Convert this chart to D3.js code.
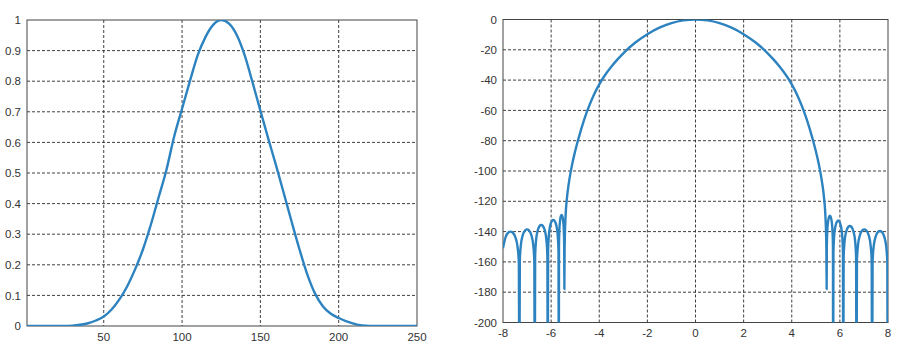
<!DOCTYPE html>
<html>
<head>
<meta charset="utf-8">
<script src="https://cdn.jsdelivr.net/npm/d3@7"></script>
<style>
  html, body { margin: 0; padding: 0; background: #fff; }
  svg { display: block; }
  text { font-family: "Liberation Sans", Arial, sans-serif; font-size: 11.5px; fill: #333; }
</style>
</head>
<body>
<main></main>
<script>
// Window (left panel): sample index vs amplitude.
const winX = [1, 5, 10, 15, 20, 25, 30, 35, 40, 45, 50, 55, 60, 65, 70, 75, 80, 85, 90, 95, 100,
  105, 110, 115, 120, 125, 130, 135, 140, 145, 150, 155, 160, 165, 170, 175, 180, 185, 190,
  195, 200, 205, 210, 215, 220, 225, 230, 235, 240, 245, 250];
const winY = [0, 0, 0, 0, 0, 0, 0.001, 0.004, 0.009, 0.018, 0.031, 0.054, 0.087, 0.13, 0.185,
  0.25, 0.33, 0.42, 0.51, 0.62, 0.71, 0.80, 0.885, 0.945, 0.985, 1.0, 0.988, 0.95, 0.884,
  0.796, 0.704, 0.613, 0.525, 0.433, 0.34, 0.25, 0.168, 0.105, 0.064, 0.04, 0.026, 0.015,
  0.007, 0.002, 0.0003, 0, 0, 0, 0, 0, 0];

// Spectrum (right panel): frequency vs magnitude in dB.
const specF = [
  -8.0, -7.897, -7.779, -7.69, -7.601, -7.483, -7.394, -7.342, -7.32,
  -7.301, -7.256, -7.179, -7.077, -7.0, -6.923, -6.821, -6.744, -6.699, -6.68,
  -6.664, -6.626, -6.561, -6.475, -6.41, -6.345, -6.259, -6.194, -6.156, -6.14,
  -6.126, -6.094, -6.039, -5.965, -5.91, -5.855, -5.781, -5.726, -5.694, -5.68,
  -5.673, -5.657, -5.629, -5.593, -5.565, -5.537, -5.501, -5.473, -5.457, -5.45,
  -5.44, -5.40, -5.35, -5.25, -5.125, -5.0, -4.75, -4.5, -4.25, -4.0, -3.75, -3.5, -3.25,
  -3.0, -2.5, -2.0, -1.5, -1.0, -0.5, 0,
  0.5, 1.0, 1.5, 2.0, 2.5, 3.0, 3.25, 3.5, 3.75, 4.0, 4.25, 4.5, 4.75, 5.0, 5.125, 5.25,
  5.35, 5.40, 5.44, 5.45,
  5.458, 5.477, 5.509, 5.553, 5.585, 5.617, 5.661, 5.693, 5.712, 5.72,
  5.733, 5.762, 5.812, 5.880, 5.93, 5.980, 6.048, 6.098, 6.127, 6.14,
  6.157, 6.195, 6.261, 6.349, 6.415, 6.481, 6.569, 6.635, 6.674, 6.69,
  6.710, 6.755, 6.833, 6.937, 7.015, 7.093, 7.197, 7.275, 7.321, 7.34,
  7.360, 7.405, 7.483, 7.587, 7.665, 7.743, 7.847, 7.925, 7.971, 7.99
];
const specDb = [
  -151, -143.9, -140.6, -140, -140.6, -143.9, -150.2, -160.5, -260,
  -159.0, -148.7, -142.4, -139.1, -138.5, -139.1, -142.4, -148.7, -159.0, -260,
  -156.1, -145.8, -139.5, -136.2, -135.6, -136.2, -139.5, -145.8, -156.1, -260,
  -152.8, -142.5, -136.2, -132.9, -132.3, -132.9, -136.2, -142.5, -152.8, -260,
  -149.5, -139.2, -132.9, -129.6, -129, -129.6, -132.9, -139.2, -149.5, -178,
  -152, -130, -119, -106.5, -95.5, -86.8, -72.3, -60.3, -50.6, -42.8, -36.5, -31.2, -26.5,
  -22.3, -15.2, -9.7, -5.4, -2.4, -0.6, 0,
  -0.6, -2.4, -5.4, -9.7, -15.2, -22.3, -26.5, -31.2, -36.5, -42.8, -50.6, -60.3, -72.3,
  -86.8, -95.5, -106.5,
  -119, -130, -152, -178,
  -150.0, -139.7, -133.4, -130.1, -129.5, -130.1, -133.4, -139.7, -150.0, -260,
  -153.3, -143.0, -136.7, -133.4, -132.8, -133.4, -136.7, -143.0, -153.3, -260,
  -156.8, -146.5, -140.2, -136.9, -136.3, -136.9, -140.2, -146.5, -156.8, -260,
  -159.0, -148.7, -142.4, -139.1, -138.5, -139.1, -142.4, -148.7, -159.0, -260,
  -160.1, -149.8, -143.5, -140.2, -139.6, -140.2, -143.5, -149.8, -160.1, -260
];

const leftXTicks = [50, 100, 150, 200, 250];
const leftYTicks = [0, 0.1, 0.2, 0.3, 0.4, 0.5, 0.6, 0.7, 0.8, 0.9, 1];
const rightXTicks = [-8, -6, -4, -2, 0, 2, 4, 6, 8];
const rightYTicks = [0, -20, -40, -60, -80, -100, -120, -140, -160, -180, -200];

const lineColor = "#2d83c0";

const svg = d3.create("svg")
  .attr("width", 901)
  .attr("height", 353)
  .style("background", "#fff");

// Draw one panel: frame, dashed grid, tick labels and the clipped curve.
function panel(id, box, xDomain, yDomain, xTicks, yTicks, xs, ys, labelGapY) {
  const x = d3.scaleLinear().domain(xDomain).range([box.left, box.right]);
  const y = d3.scaleLinear().domain(yDomain).range([box.bottom, box.top]);
  const g = svg.append("g");

  g.append("defs").append("clipPath").attr("id", id)
    .append("rect")
    .attr("x", box.left).attr("y", box.top)
    .attr("width", box.right - box.left).attr("height", box.bottom - box.top);

  // Grid lines (skip the ones that sit on the frame).
  const grid = g.append("g")
    .attr("stroke", "#2a2a2a")
    .attr("stroke-width", 0.9)
    .attr("stroke-dasharray", "3,2");
  grid.selectAll("line.v")
    .data(xTicks.filter((t) => t !== xDomain[0] && t !== xDomain[1]))
    .join("line")
    .attr("x1", (d) => x(d)).attr("x2", (d) => x(d))
    .attr("y1", box.top).attr("y2", box.bottom);
  grid.selectAll("line.h")
    .data(yTicks.filter((t) => t !== yDomain[0] && t !== yDomain[1]))
    .join("line")
    .attr("x1", box.left).attr("x2", box.right)
    .attr("y1", (d) => y(d)).attr("y2", (d) => y(d));

  // Frame.
  g.append("rect")
    .attr("x", box.left).attr("y", box.top)
    .attr("width", box.right - box.left).attr("height", box.bottom - box.top)
    .attr("fill", "none")
    .attr("stroke", "#444")
    .attr("stroke-width", 1);

  // Tick labels.
  g.append("g").selectAll("text")
    .data(yTicks)
    .join("text")
    .attr("x", box.left - 6)
    .attr("y", (d) => y(d))
    .attr("dy", "0.36em")
    .attr("text-anchor", "end")
    .text((d) => d);
  g.append("g").selectAll("text")
    .data(xTicks)
    .join("text")
    .attr("x", (d) => x(d))
    .attr("y", box.bottom + labelGapY)
    .attr("text-anchor", "middle")
    .text((d) => d);

  const pts = xs.map((v, i) => [v, ys[i]]);
  const line = d3.line()
    .x((d) => x(d[0]))
    .y((d) => y(d[1]))
    .curve(d3.curveMonotoneX);

  g.append("path")
    .datum(pts)
    .attr("clip-path", `url(#${id})`)
    .attr("fill", "none")
    .attr("stroke", lineColor)
    .attr("stroke-width", 2.4)
    .attr("stroke-linejoin", "round")
    .attr("d", line);
}

panel("clipL", { left: 27, right: 417, top: 20, bottom: 326 },
  [1, 250], [0, 1], leftXTicks, leftYTicks, winX, winY, 15);

panel("clipR", { left: 503, right: 888, top: 19.5, bottom: 322.5 },
  [-8, 8], [-200, 0], rightXTicks, rightYTicks, specF, specDb, 14);

document.querySelector("main").append(svg.node());
</script>
</body>
</html>
